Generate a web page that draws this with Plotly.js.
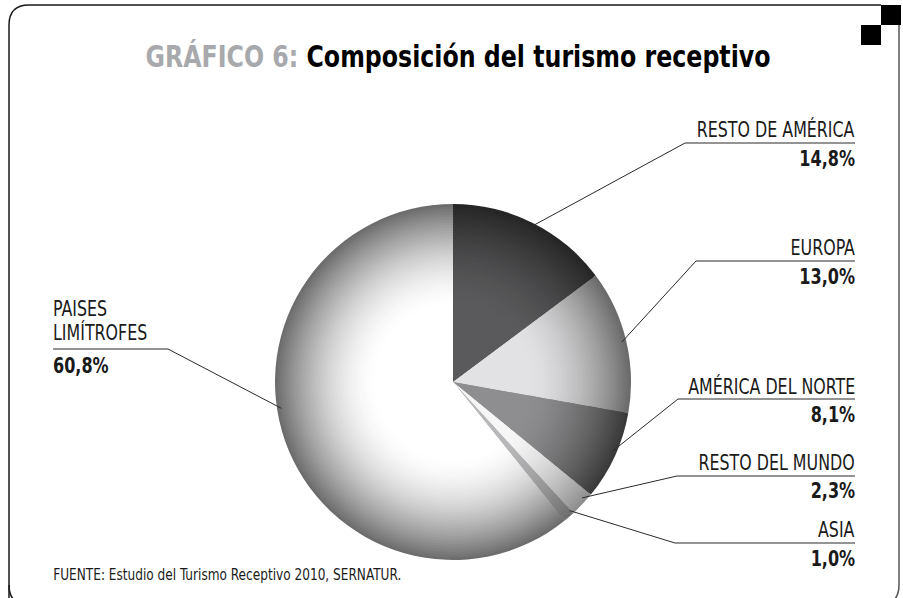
<!DOCTYPE html>
<html>
<head>
<meta charset="utf-8">
<script src="https://cdn.plot.ly/plotly-3.0.1.min.js"></script>
<style>
  html, body { margin: 0; padding: 0; background: #ffffff; }
  #chart { width: 903px; height: 598px; }
</style>
</head>
<body>
<div id="chart"></div>
<script>
// ---- data ----
const categories = ['RESTO DE AMÉRICA', 'EUROPA', 'AMÉRICA DEL NORTE', 'RESTO DEL MUNDO', 'ASIA', 'PAISES LIMÍTROFES'];
const shares = [14.8, 13.0, 8.1, 2.3, 1.0, 60.8];
const pctLabels = ['14,8%', '13,0%', '8,1%', '2,3%', '1,0%', '60,8%'];
const titleLead = 'GRÁFICO 6:';
const titleMain = 'Composición del turismo receptivo';
const sourceText = 'FUENTE: Estudio del Turismo Receptivo 2010, SERNATUR.';

// ---- style ----
const W = 903, H = 598;
const FONT = '"Liberation Sans Narrow", "DejaVu Sans Condensed", "Arial Narrow", sans-serif';
const centerCols = ['#5a5a5c', '#e2e2e4', '#8e8e90', '#f6f6f6', '#b8b8ba', '#ffffff'];
const edgeCols   = ['#252525', '#686868', '#383838', '#8c8c8c', '#6c6c6c', '#6a6a6a'];
const cx = 453, cy = 382, R = 178;
const ringRadii = [];
for (let f = 1.0; f > 0.39; f -= 0.015) ringRadii.push(f);
// label layout: underline y (px), underline left x (px)
const underY = [143, 261, 399, 476, 543, 349];
const underL = [685, 696, 678, 677, 675, 53];
const rightX = 855;
const paisesUnderR = 168;
const anchorShift = [0, 0, -1, -1.5, -1.5, 10.7]; // degrees
const anchorR = 0.975;
const LBL = 20.5, PCT = 20.5;

const px = x => x / W;
const py = y => 1 - y / H;

function hex2rgb(h) { return [1, 3, 5].map(i => parseInt(h.substr(i, 2), 16)); }
function mix(a, b, t) {
  const A = hex2rgb(a), B = hex2rgb(b);
  return 'rgb(' + A.map((v, i) => Math.round(v + (B[i] - v) * t)).join(',') + ')';
}

const traces = ringRadii.map((f, k) => {
  const inner = k + 1 < ringRadii.length ? ringRadii[k + 1] : 0.4;
  const rm = (f + inner) / 2;
  const t = Math.max(0, Math.min(1, (rm - 0.42) / 0.58));
  const d = Math.pow(t, 1.7);
  return {
    type: 'pie',
    labels: categories,
    values: shares,
    sort: false,
    direction: 'clockwise',
    rotation: 0,
    textinfo: 'none',
    hoverinfo: 'skip',
    showlegend: false,
    marker: { colors: centerCols.map((c, i) => mix(c, edgeCols[i], d)), line: { width: 0 } },
    domain: {
      x: [px(cx - f * R), px(cx + f * R)],
      y: [py(cy + f * R), py(cy - f * R)]
    }
  };
});

// ---- annotations and leader lines ----
const annotations = [];
const annScale = [];
const shapes = [];
function addAnn(text, x, y, xanchor, size, s) {
  annotations.push({ text: text, x: px(x), y: py(y), xanchor: xanchor, yanchor: 'middle', showarrow: false,
    xref: 'paper', yref: 'paper', font: { family: FONT, size: size, color: '#1a1a1a' } });
  annScale.push(s);
}
const total = shares.reduce((a, b) => a + b, 0);
let cum = 0;
shares.forEach((v, i) => {
  const mid = (cum + v / 2) / total * 360 + anchorShift[i];
  cum += v;
  const th = mid * Math.PI / 180;
  const ax = cx + anchorR * R * Math.sin(th);
  const ay = cy - anchorR * R * Math.cos(th);
  const uy = underY[i];
  const isLeft = i === 5;
  const ux0 = underL[i];
  const ux1 = isLeft ? paisesUnderR : rightX;
  const joinX = isLeft ? ux1 : ux0;
  shapes.push({ type: 'line', xref: 'paper', yref: 'paper', x0: px(ux0), x1: px(ux1), y0: py(uy), y1: py(uy), line: { color: '#2a2a2a', width: 1.2 } });
  shapes.push({ type: 'line', xref: 'paper', yref: 'paper', x0: px(joinX), x1: px(ax), y0: py(uy), y1: py(ay), line: { color: '#2a2a2a', width: 1 } });
  if (isLeft) {
    const parts = categories[i].split(' ');
    addAnn(parts[0], ux0 - 2, uy - 41 + 0.5, 'left', LBL, 0.86);
    addAnn(parts[1], ux0 - 2, uy - 17 + 0.5, 'left', LBL, 0.86);
    addAnn('<b>' + pctLabels[i] + '</b>', ux0 - 2, uy + 16 + 0.5, 'left', PCT, 0.87);
  } else {
    addAnn(categories[i], rightX + 2, uy - 13.5 + 0.5, 'right', LBL, 0.86);
    addAnn('<b>' + pctLabels[i] + '</b>', rightX + 2, uy + 15 + 0.5, 'right', PCT, 0.87);
  }
});
addAnn(sourceText, 51, 574.5, 'left', 15, 0.9);

// frame
const frame = 'M ' + px(9) + ',' + py(610) + ' L ' + px(9) + ',' + py(25) + ' Q ' + px(9) + ',' + py(5) + ' ' + px(29) + ',' + py(5) + ' L ' + px(881) + ',' + py(5);
shapes.push({ type: 'path', xref: 'paper', yref: 'paper', path: frame, line: { color: '#1a1a1a', width: 1.5 } });
const frameR = 'M ' + px(899) + ',' + py(25) + ' L ' + px(899) + ',' + py(585) + ' Q ' + px(899) + ',' + py(605) + ' ' + px(879) + ',' + py(605);
shapes.push({ type: 'path', xref: 'paper', yref: 'paper', path: frameR, line: { color: '#555555', width: 1.5 } });
const frameB = 'M ' + px(9) + ',' + py(585) + ' Q ' + px(9) + ',' + py(605) + ' ' + px(29) + ',' + py(605);
shapes.push({ type: 'path', xref: 'paper', yref: 'paper', path: frameB, line: { color: '#1a1a1a', width: 1.5 } });
shapes.push({ type: 'rect', xref: 'paper', yref: 'paper', x0: px(881), x1: px(901), y0: py(25), y1: py(5), fillcolor: '#000000', line: { width: 0 } });
shapes.push({ type: 'rect', xref: 'paper', yref: 'paper', x0: px(861), x1: px(881), y0: py(45), y1: py(25), fillcolor: '#000000', line: { width: 0 } });

const layout = {
  width: W, height: H,
  margin: { l: 0, r: 0, t: 0, b: 0 },
  paper_bgcolor: '#ffffff',
  title: {
    text: '<b><span style="color:#a7a9ac">' + titleLead + '</span> ' + titleMain + '</b>',
    x: 458 / W, xanchor: 'center', xref: 'container',
    y: 1 - 56 / H, yanchor: 'middle', yref: 'container',
    font: { family: FONT, size: 31, color: '#000000' }
  },
  annotations: annotations,
  shapes: shapes
};

// horizontal condensing of text (the reference uses a condensed typeface)
function scaleText(el, s, anchor) {
  if (!el) return;
  const b = el.getBBox();
  const p = anchor === 'left' ? b.x : (anchor === 'right' ? b.x + b.width : b.x + b.width / 2);
  el.setAttribute('transform', 'translate(' + p + ',0) scale(' + s + ',1) translate(' + (-p) + ',0)');
}

Plotly.newPlot('chart', traces, layout, { staticPlot: true, displayModeBar: false }).then(gd => {
  scaleText(gd.querySelector('.gtitle'), 0.85, 'center');
  gd.querySelectorAll('.annotation').forEach(g => {
    const idx = +g.getAttribute('data-index');
    scaleText(g.querySelector('.annotation-text'), annScale[idx], annotations[idx].xanchor);
  });
});
</script>
</body>
</html>
